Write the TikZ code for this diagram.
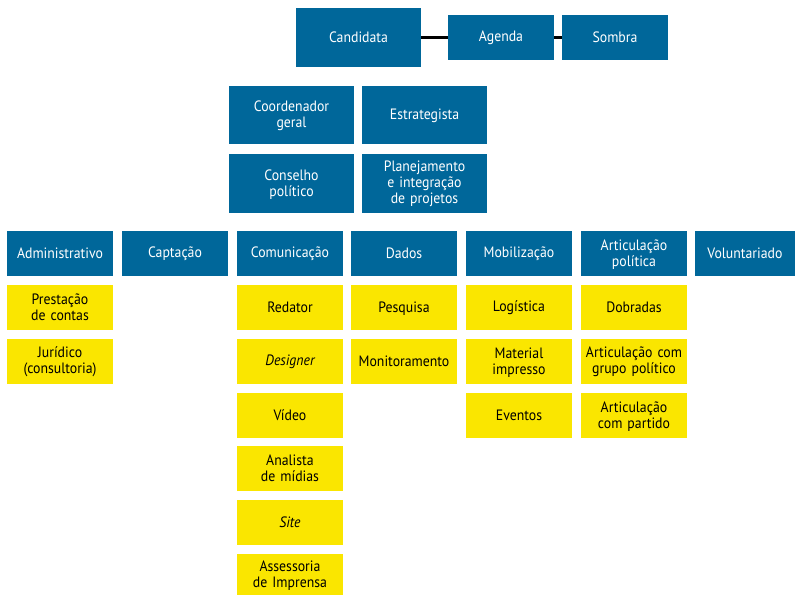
\documentclass[tikz,border=0pt]{standalone}
\usepackage{fontspec}
\setmainfont{PT Sans}[FakeStretch=0.92]
\definecolor{boxblue}{RGB}{0,103,154}
\definecolor{boxyellow}{RGB}{250,230,0}
\newcommand{\topstrut}{\rule{0pt}{12pt}}
\newcommand{\botstrut}{\rule[-1.5pt]{0pt}{1.5pt}}
\tikzset{
  base/.style={rectangle, inner sep=0pt, align=center, font=\fontsize{15}{16}\selectfont,
    execute at begin node={\topstrut}, execute at end node={\botstrut}},
  bb/.style={base, fill=boxblue, text=white, minimum width=106pt, minimum height=45pt, text width=106pt},
  bbig/.style={base, fill=boxblue, text=white, minimum width=125pt, minimum height=58pt, text width=125pt},
  yb/.style={base, fill=boxyellow, text=black, minimum width=106pt, minimum height=45pt, text width=106pt},
  link/.style={draw=black, line width=2.5pt}
}
\begin{document}
\begin{tikzpicture}[x=1pt,y=-1pt]
\useasboundingbox (0,0) rectangle (795,595);
% top
\node[bbig, minimum height=59pt] (cand) at (358.5,37.5) {Candidata};
\node[bb] (agenda) at (501,37.5) {Agenda};
\node[bb] (sombra) at (615,37.5) {Sombra};
\draw[link] (cand) -- (agenda);
\draw[link] (agenda) -- (sombra);
% second level
\node[bbig] (coord) at (291.5,115) {Coordenador\\geral};
\node[bbig] (estrat) at (424.5,115) {Estrategista};
\node[bbig, minimum height=59pt] (cons) at (291.5,183.5) {Conselho\\político};
\node[bbig, minimum height=59pt] (plan) at (424.5,183.5) {Planejamento\\e integração\\de projetos};
% headers
\node[bb] (adm) at (60,253.5) {Administrativo};
\node[bb] (capt) at (175,253.5) {Captação};
\node[bb] (com) at (290,253.5) {Comunicação};
\node[bb] (dados) at (404,253.5) {Dados};
\node[bb] (mob) at (519,253.5) {Mobilização};
\node[bb] (art) at (634,253.5) {Articulação\\política};
\node[bb, minimum width=100pt, text width=100pt] (vol) at (745,253.5) {Voluntariado};
% Administrativo
\node[yb] (prest) at (60,307.5) {Prestação\\de contas};
\node[yb] (jur) at (60,361.5) {Jurídico\\(consultoria)};
% Comunicação
\node[yb] (red) at (290,307.5) {Redator};
\node[yb] (des) at (290,361.5) {\itshape Designer};
\node[yb] (vid) at (290,415.5) {Vídeo};
\node[yb] (anal) at (290,468.5) {Analista\\de mídias};
\node[yb] (site) at (290,522.5) {\itshape Site};
\node[yb, minimum height=41pt] (asse) at (290,574.5) {Assessoria\\de Imprensa};
% Dados
\node[yb] (pesq) at (404,307.5) {Pesquisa};
\node[yb] (monit) at (404,361.5) {Monitoramento};
% Mobilização
\node[yb] (log) at (519,307.5) {Logística};
\node[yb] (mat) at (519,361.5) {Material\\impresso};
\node[yb] (ev) at (519,415.5) {Eventos};
% Articulação
\node[yb] (dob) at (634,307.5) {Dobradas};
\node[yb] (artg) at (634,361.5) {Articulação com\\grupo político};
\node[yb] (artp) at (634,415.5) {Articulação\\com partido};
\end{tikzpicture}
\end{document}
